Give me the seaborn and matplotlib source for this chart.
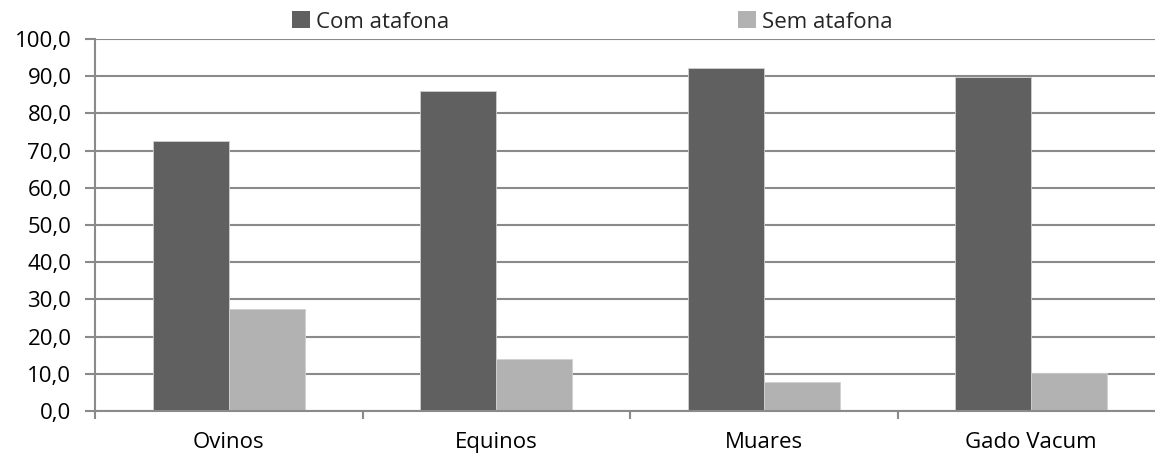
import matplotlib
matplotlib.use("Agg")
import matplotlib.pyplot as plt
import matplotlib.ticker as mticker
import seaborn as sns
import pandas as pd

categories = ["Ovinos", "Equinos", "Muares", "Gado Vacum"]
com_atafona = [72.7, 86.1, 92.3, 89.8]
sem_atafona = [27.3, 13.9, 7.7, 10.2]
series_names = ["Com atafona", "Sem atafona"]
series_colors = ["#606060", "#b2b2b2"]

df = pd.DataFrame({
    "categoria": categories * 2,
    "valor": com_atafona + sem_atafona,
    "serie": [series_names[0]] * len(categories) + [series_names[1]] * len(categories),
})

sns.set_theme(style="white")
plt.rcParams["font.family"] = ["Open Sans", "DejaVu Sans"]

W, H = 1155, 455
FS = 16
fig = plt.figure(figsize=(W / 100, H / 100), dpi=100)
ax = fig.add_axes([95 / W, 44 / H, 1070 / W, 372 / H])

sns.barplot(data=df, x="categoria", y="valor", hue="serie", order=categories,
            hue_order=series_names, palette=series_colors, width=0.57,
            saturation=1, ax=ax, legend=False, zorder=3, edgecolor="#d0d0d0",
            linewidth=0.6)

grid_c = "#8a8a8a"
ax.set_xlim(-0.5, 3.5)
ax.set_ylim(0, 100)
ax.set_yticks(range(0, 101, 10))
ax.yaxis.set_major_formatter(mticker.FuncFormatter(lambda v, p: f"{v:.1f}".replace(".", ",")))
ax.grid(axis="y", color=grid_c, linewidth=1.5, zorder=0)
ax.set_axisbelow(True)
for s in ["top", "right"]:
    ax.spines[s].set_visible(False)
for s in ["left", "bottom"]:
    ax.spines[s].set_color(grid_c)
    ax.spines[s].set_linewidth(1.5)
    ax.spines[s].set_zorder(4)

ax.set_xlabel("")
ax.set_ylabel("")
ax.tick_params(axis="y", which="major", left=True, length=7, width=1.5, color=grid_c,
               labelsize=FS, pad=10, labelcolor="#000000")
ax.set_xticks([i + 0.5 for i in range(-1, len(categories))], minor=True)
ax.tick_params(axis="x", which="major", bottom=False, labelsize=FS, pad=9, labelcolor="#000000")
ax.tick_params(axis="x", which="minor", bottom=True, length=6, width=1.5, color=grid_c)

# Two separate legend entries laid out along the top
handles = [plt.Rectangle((0, 0), 1, 1, facecolor=c, edgecolor="none") for c in series_colors]
for h, name, x0 in zip(handles, series_names, [292 / W, 738 / W]):
    fig.legend([h], [name], loc="center left", bbox_to_anchor=(x0, 1 - 22 / H),
               frameon=False, fontsize=FS, handlelength=0.8, handleheight=0.8,
               handletextpad=0.3, borderpad=0, borderaxespad=0)

fig.savefig("out.png", dpi=100)
